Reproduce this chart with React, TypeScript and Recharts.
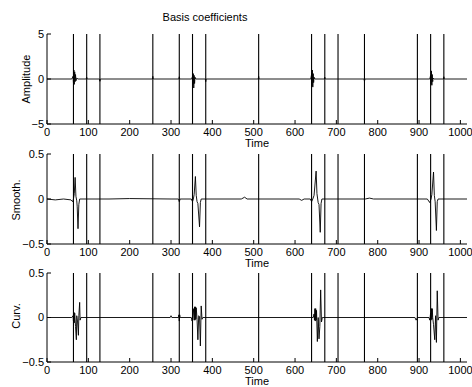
import React from 'react';
import { LineChart, Line, XAxis, YAxis, ReferenceLine } from 'recharts';

const W = 472;
const H = 387;
const T_MAX = 1016;
const FONT = '"Liberation Sans", Arial, Helvetica, sans-serif';

const timeTicks = [0, 100, 200, 300, 400, 500, 600, 700, 800, 900, 1000];
const ampTicks = [-5, 0, 5];
const coefTicks = [-0.5, 0, 0.5];

// basis boundaries (vertical lines)
const boundaries = [64, 96, 128, 256, 320, 352, 384, 512, 640, 672, 704, 768, 896, 928, 960];

// [time, value]
const amplitude: [number, number][] = [
  [0, 0], [60, 0], [63, 0.3], [64, -0.4], [65, 1.0], [66, -0.6], [67, 0.8], [68, -0.3], [69, 0.5], [70, -0.2], [72, 0.1], [75, 0],
  [95, 0], [96, 0.2], [97, 0], [127, 0], [128, -0.25], [129, 0],
  [255, 0], [256, 0.3], [257, 0], [319, 0], [320, 0.25], [321, 0],
  [350, 0], [352, 0.3], [353, -0.6], [354, 0.6], [355, -1.0], [356, 0.4], [357, -0.5], [358, 0.2], [360, 0],
  [383, 0], [384, -0.3], [385, 0], [511, 0], [512, 0.3], [513, 0],
  [638, 0], [640, 0.5], [641, -0.8], [642, 1.0], [643, -0.9], [644, 0.6], [645, -0.4], [646, 0.2], [648, 0],
  [671, 0], [672, 0.2], [673, 0], [767, 0], [768, -0.25], [769, 0],
  [926, 0], [928, 0.4], [929, -0.6], [930, 0.9], [931, -0.7], [932, 0.5], [933, -0.3], [934, 0.1], [936, 0],
  [959, 0], [960, 0.25], [961, 0], [1016, 0],
];

const smooth: [number, number][] = [
  [0, 0], [20, -0.01], [40, 0], [58, -0.01], [62, -0.03], [64, 0], [66, 0.06], [68, 0.24], [70, 0.03], [72, -0.02],
  [73, -0.08], [75, -0.33], [77, -0.06], [79, 0],
  [150, 0], [200, 0.005], [300, 0], [318, 0], [320, -0.03], [322, 0],
  [349, 0], [352, -0.03], [354, 0], [356, 0.05], [359, 0.25], [361, 0.04], [363, -0.03], [365, -0.05], [369, -0.31], [371, -0.04], [373, 0],
  [470, 0], [478, 0.02], [484, 0], [610, 0], [616, -0.015], [622, 0],
  [637, 0], [640, -0.03], [643, 0], [646, 0.04], [651, 0.31], [653, 0.06], [656, -0.04], [658, -0.06], [661, -0.37], [663, -0.05], [665, 0],
  [770, 0], [780, 0.01], [790, 0],
  [920, 0], [926, -0.04], [929, 0], [931, 0.05], [935, 0.3], [937, 0.04], [939, -0.03], [942, -0.35], [944, -0.03], [946, 0],
  [1016, 0],
];

const curvature: [number, number][] = [
  [0, 0], [60, 0], [63, 0.02], [64, -0.04], [65, 0.06], [66, -0.06], [67, 0.05], [69, -0.1], [71, -0.25], [72, 0.02],
  [74, -0.05], [76, -0.2], [77, 0.02], [79, 0.17], [80, -0.03], [82, 0],
  [298, 0], [300, 0.02], [302, 0], [318, 0], [319, 0.03], [320, -0.04], [321, 0.03], [322, 0],
  [349, 0], [351, -0.04], [353, 0.02], [355, 0.1], [356, -0.03], [357, 0.12], [358, -0.03], [359, 0.12], [360, -0.02], [361, 0.11],
  [363, -0.02], [365, -0.25], [367, 0.02], [369, 0.01], [371, -0.32], [373, 0.13], [375, -0.02], [377, 0],
  [644, 0], [646, 0.04], [647, -0.03], [648, 0.1], [649, -0.04], [650, 0.1], [651, -0.03], [652, 0.08], [654, -0.27], [656, 0],
  [658, -0.24], [660, -0.1], [662, 0.31], [664, -0.05], [666, 0],
  [890, 0], [893, -0.03], [896, 0],
  [924, 0], [926, -0.03], [928, 0.05], [929, -0.03], [930, 0.1], [931, -0.02], [932, 0.1], [933, 0], [935, -0.08], [938, -0.25],
  [940, 0.02], [942, -0.28], [944, 0.3], [946, -0.03], [948, 0],
  [1016, 0],
];

const toRows = (pts: [number, number][]) => pts.map(([t, v]) => ({ t, v }));

const fmtY = (v: number) => (v < 0 ? '\u2212' + String(-v) : String(v));

const tickStyle = { fill: '#000', fontSize: 11, fontFamily: FONT };

interface PanelProps {
  pts: [number, number][];
  top: number;
  plotH: number;
  yDomain: [number, number];
  yTicks: number[];
}

const Panel = ({ pts, top, plotH, yDomain, yTicks }: PanelProps) => {
  const mt = 10;
  return (
    <div style={{ position: 'absolute', left: 0, top: top - mt }}>
      <LineChart
        width={W}
        height={mt + plotH + 30}
        data={toRows(pts)}
        margin={{ top: mt, right: 5, bottom: 0, left: 0 }}
      >
        <XAxis
          dataKey="t"
          type="number"
          domain={[0, T_MAX]}
          ticks={timeTicks}
          interval={0}
          allowDataOverflow
          stroke="#000"
          tickSize={-4}
          tickMargin={8}
          height={30}
          tick={tickStyle}
        />
        <XAxis
          xAxisId="top"
          orientation="top"
          type="number"
          domain={[0, T_MAX]}
          ticks={timeTicks}
          interval={0}
          tick={false}
          tickSize={-4}
          height={0}
          stroke="#000"
        />
        <YAxis
          type="number"
          domain={yDomain}
          ticks={yTicks}
          interval={0}
          allowDataOverflow
          stroke="#000"
          tickSize={-4}
          tickMargin={7}
          width={47}
          tick={tickStyle}
          tickFormatter={fmtY}
        />
        <YAxis
          yAxisId="r"
          orientation="right"
          type="number"
          domain={yDomain}
          ticks={yTicks}
          tick={false}
          tickSize={-4}
          width={0}
          stroke="#000"
        />
        {boundaries.map((b) => (
          <ReferenceLine key={b} x={b} stroke="#000" strokeWidth={1.1} />
        ))}
        <Line
          type="linear"
          dataKey="v"
          stroke="#000"
          strokeWidth={0.9}
          dot={false}
          isAnimationActive={false}
        />
      </LineChart>
    </div>
  );
};

export default function App() {
  const txt = { fontFamily: FONT, fontSize: 11, fill: '#000' };
  return (
    <div style={{ position: 'fixed', left: 0, top: 0, width: W, height: H, background: '#fff', overflow: 'hidden' }}>
      <Panel pts={amplitude} top={34} plotH={90} yDomain={[-5, 5]} yTicks={ampTicks} />
      <Panel pts={smooth} top={154} plotH={90} yDomain={[-0.5, 0.5]} yTicks={coefTicks} />
      <Panel pts={curvature} top={273} plotH={89} yDomain={[-0.5, 0.5]} yTicks={coefTicks} />
      <svg width={W} height={H} style={{ position: 'absolute', left: 0, top: 0, pointerEvents: 'none' }}>
        <text x={205} y={17} textAnchor="middle" dominantBaseline="central" {...txt}>Basis coefficients</text>
        <text x={26} y={79} textAnchor="middle" dominantBaseline="central" transform="rotate(-90 26 79)" {...txt}>Amplitude</text>
        <text x={16} y={200} textAnchor="middle" dominantBaseline="central" transform="rotate(-90 16 200)" {...txt}>Smooth.</text>
        <text x={16} y={316} textAnchor="middle" dominantBaseline="central" transform="rotate(-90 16 316)" {...txt}>Curv.</text>
        <text x={257} y={143} textAnchor="middle" dominantBaseline="central" {...txt}>Time</text>
        <text x={257} y={263} textAnchor="middle" dominantBaseline="central" {...txt}>Time</text>
        <text x={257} y={381} textAnchor="middle" dominantBaseline="central" {...txt}>Time</text>
      </svg>
    </div>
  );
}
